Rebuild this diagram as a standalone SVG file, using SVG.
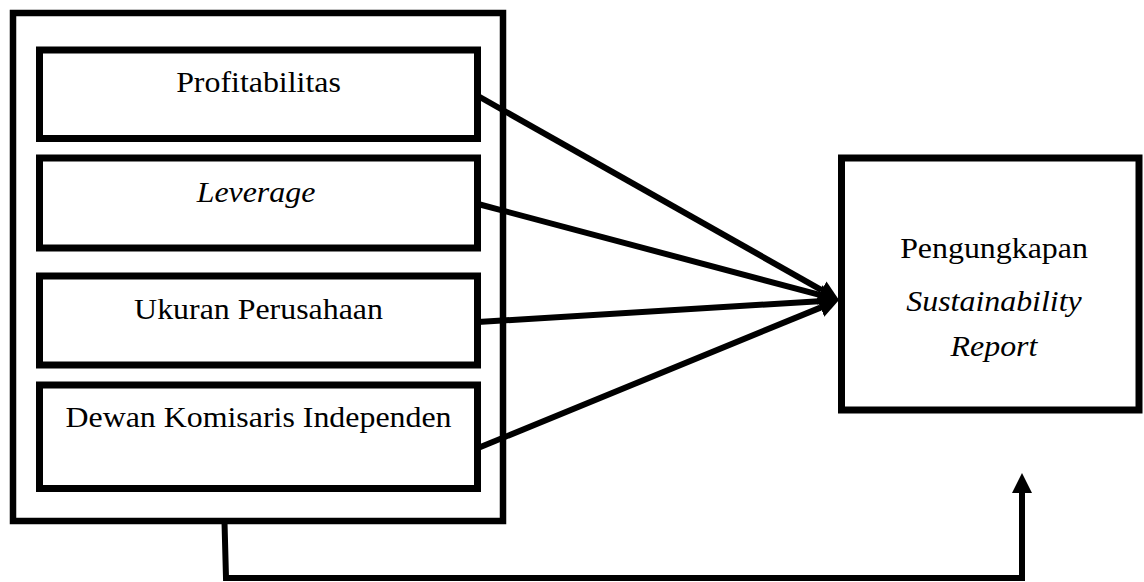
<svg xmlns="http://www.w3.org/2000/svg" width="1144" height="582" viewBox="0 0 1144 582">
<style>
.box{fill:#fff;stroke:#000;stroke-width:7}
.outer{fill:#fff;stroke:#000;stroke-width:6.5}
text{font-family:"Liberation Serif","Times New Roman",Times,serif;font-size:29px;fill:#000;text-anchor:middle}
.i{font-style:italic}
.c{fill:none;stroke:#000;stroke-width:6}
</style>
<defs>
<marker id="ah" markerUnits="userSpaceOnUse" viewBox="0 0 20 20" refX="0" refY="10" markerWidth="20" markerHeight="20" orient="auto">
<path d="M0,0 L20,10 L0,20 Z" fill="#000"/>
</marker>
</defs>
<g id="group-x">
<rect class="outer" x="13" y="13" width="490" height="508"/>
</g>
<g id="n-profitabilitas">
<rect class="box" x="39.5" y="50" width="438" height="88.5"/>
<text transform="translate(258.5,92) scale(1.1,1)">Profitabilitas</text>
</g>
<g id="n-leverage">
<rect class="box" x="39.5" y="158" width="438" height="90"/>
<text class="i" transform="translate(256,202) scale(1.1,1)">Leverage</text>
</g>
<g id="n-ukuran">
<rect class="box" x="39.5" y="276" width="438" height="89"/>
<text transform="translate(258.5,319) scale(1.1,1)">Ukuran Perusahaan</text>
</g>
<g id="n-dewan">
<rect class="box" x="39.5" y="385" width="438" height="103.5"/>
<text transform="translate(258.5,427) scale(1.1,1)">Dewan Komisaris Independen</text>
</g>
<g id="n-sr">
<rect class="box" x="841.5" y="158" width="297.5" height="252"/>
<text transform="translate(994,258) scale(1.1,1)">Pengungkapan</text>
<text class="i" transform="translate(994,311) scale(1.1,1)">Sustainability</text>
<text class="i" transform="translate(994,356) scale(1.1,1)">Report</text>
</g>
<g id="connectors">
<line class="c" x1="478" y1="96" x2="821.6" y2="290.1" marker-end="url(#ah)"/>
<line class="c" x1="478" y1="204" x2="819.7" y2="294.9" marker-end="url(#ah)"/>
<line class="c" x1="478" y1="322" x2="819" y2="301.2" marker-end="url(#ah)"/>
<line class="c" x1="478" y1="448" x2="820.5" y2="307.6" marker-end="url(#ah)"/>
<polyline class="c" points="224.5,522 226,578 1022,578 1022,493" marker-end="url(#ah)"/>
</g>
</svg>
